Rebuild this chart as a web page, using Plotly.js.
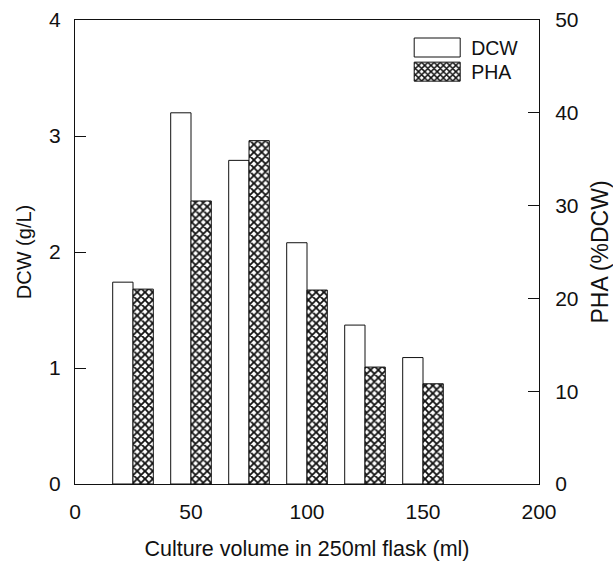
<!DOCTYPE html>
<html>
<head>
<meta charset="utf-8">
<script src="https://cdn.plot.ly/plotly-3.0.1.min.js"></script>
<style>html,body{margin:0;padding:0;background:#fff;}#chart{width:613px;height:561px;}</style>
</head>
<body>
<div id="chart"></div>
<script>
// Culture volume (ml)
const volumes = [25, 50, 75, 100, 125, 150];
// Dry cell weight (g/L), left axis
const dcw = [1.74, 3.20, 2.79, 2.08, 1.37, 1.09];
// PHA content (%DCW), right axis
const pha = [21.0, 30.5, 37.0, 20.9, 12.6, 10.8];
const xTicks = [0, 50, 100, 150, 200];
const leftTicks = [0, 1, 2, 3, 4];
const rightTicks = [0, 10, 20, 30, 40, 50];

const FONT = 'Liberation Sans, Arial, sans-serif';
const INK = '#111';
const BW = 8.75;

const traces = [
  {
    type: 'bar', name: 'DCW', x: volumes, y: dcw, yaxis: 'y', legend: 'legend',
    width: BW, offset: -BW,
    marker: {color: '#ffffff', line: {color: INK, width: 1}}
  },
  {
    type: 'bar', name: 'PHA', x: volumes, y: pha, yaxis: 'y2', legend: 'legend2',
    width: BW, offset: 0,
    marker: {color: INK, line: {color: INK, width: 1},
      pattern: {shape: 'x', fgcolor: INK, bgcolor: '#ffffff', size: 5.5, solidity: 0.55, fillmode: 'replace'}}
  }
];

const legendBase = {
  x: 0.703, xanchor: 'left', yanchor: 'middle',
  bgcolor: 'rgba(0,0,0,0)', borderwidth: 0,
  font: {size: 19.5, color: INK}, itemwidth: 60
};

const layout = {
  width: 613, height: 561,
  margin: {l: 75, r: 74, t: 20, b: 77},
  paper_bgcolor: '#fff', plot_bgcolor: '#fff',
  font: {family: FONT, size: 21, color: INK},
  showlegend: true,
  legend: Object.assign({}, legendBase, {y: 0.94}),
  legend2: Object.assign({}, legendBase, {y: 0.888}),
  xaxis: {
    range: [0, 200], tickvals: xTicks, ticktext: xTicks.map(String),
    showgrid: false, zeroline: false, showline: true, linecolor: INK, linewidth: 1,
    mirror: true, ticks: '', ticklabelstandoff: 9,
    title: {text: 'Culture volume in 250ml flask (ml)', font: {size: 21.5}, standoff: 19}
  },
  yaxis: {
    range: [0, 4], tickvals: leftTicks, ticktext: leftTicks.map(String),
    showgrid: false, zeroline: false, showline: true, linecolor: INK, linewidth: 1,
    ticks: 'inside', ticklen: 11, tickcolor: INK, ticklabelstandoff: 9,
    title: {text: 'DCW (g/L)', font: {size: 20}, standoff: 12}
  },
  yaxis2: {
    range: [0, 50], tickvals: rightTicks, ticktext: rightTicks.map(String),
    overlaying: 'y', side: 'right', anchor: 'x',
    showgrid: false, zeroline: false, showline: true, linecolor: INK, linewidth: 1,
    ticks: 'inside', ticklen: 11, tickcolor: INK, ticklabelstandoff: 11,
    title: {text: 'PHA (%DCW)', font: {size: 23}, standoff: 14}
  }
};

function widenSwatches() {
  const gd = document.getElementById('chart');
  gd.querySelectorAll('g.traces').forEach(function (tr) {
    const p = tr.querySelector('.legendpoints path');
    const t = tr.querySelector('text');
    if (!p || !t) return;
    if (!p.dataset.baseTf) p.dataset.baseTf = p.getAttribute('transform') || 'translate(0,0)';
    const m = /translate\(\s*([-\d.]+)/.exec(p.dataset.baseTf);
    const bx = m ? parseFloat(m[1]) : 0;
    p.setAttribute('d', 'M-23,-9.5H23V9.5H-23Z');
    p.setAttribute('transform', 'translate(' + bx + ',0)');
    p.style.strokeWidth = '1px';
    p.style.stroke = INK;
    const pr = p.getBoundingClientRect();
    const tx = t.getBoundingClientRect();
    const dx = (tx.left - 11) - pr.right;
    p.setAttribute('transform', 'translate(' + (bx + dx) + ',0)');
  });
  gd.querySelectorAll('g.scrollbox').forEach(function (s) { s.removeAttribute('clip-path'); });
}

Plotly.newPlot('chart', traces, layout, {displayModeBar: false, staticPlot: true}).then(function (gd) {
  widenSwatches();
  gd.on('plotly_afterplot', widenSwatches);
  setTimeout(widenSwatches, 30);
  setTimeout(widenSwatches, 200);
});
</script>
</body>
</html>
